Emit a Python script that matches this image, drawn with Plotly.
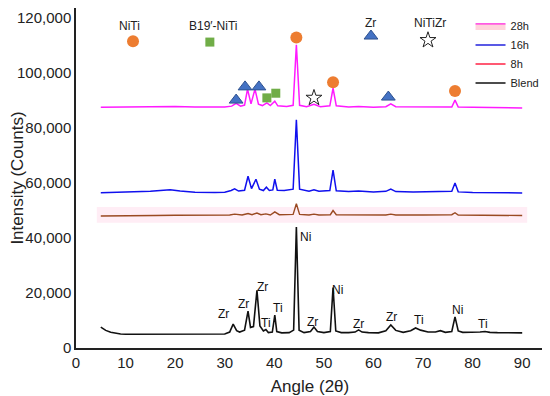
import plotly.graph_objects as go

# ---------------- data ----------------
blend_x = [5, 5.5, 6, 7, 8, 9, 10, 12, 14, 16, 18, 20, 22, 24, 26, 28, 30, 31, 31.7, 32.4, 33, 34, 34.7, 35.2, 35.8,
           36.5, 37.1, 37.8, 38.3, 38.8, 39.6, 40.1, 40.5, 41.5, 43, 43.9, 44.45, 45, 46, 47.3, 48, 48.7, 50, 51.3,
           51.85, 52.4, 53.5, 55, 56.3, 57, 57.7, 59, 61, 62.5, 63.5, 64.5, 66, 67.5, 68.5, 69.5, 71, 72.5, 73.5,
           74.5, 75.8, 76.45, 77.1, 78, 80, 81.5, 82.5, 83.5, 85, 87, 90]
blend_y = [7600, 7000, 6400, 5700, 5300, 5100, 5000, 5000, 5100, 5000, 5100, 5000, 4900, 4900, 4900, 5000, 5100,
           5800, 8700, 6300, 5800, 6500, 13400, 7500, 7800, 21000, 8000, 6200, 6700, 5600, 5800, 12000, 6000, 5500,
           5600, 6500, 44000, 6500, 5600, 6000, 7600, 6000, 5600, 6000, 22000, 6200, 5600, 5600, 5800, 6600, 5800,
           5600, 5500, 6300, 8400, 6400, 5700, 6300, 7300, 6500, 5800, 5800, 6300, 5700, 6000, 11300, 6200, 5700,
           5700, 5800, 6000, 5700, 5600, 5600, 5500]

h8_x = [5, 8, 12, 16, 20, 24, 28, 31, 32, 33.5, 34.7, 35.5, 36.5, 37.3, 38.3, 39.2, 40.1, 41, 43.8, 44.45, 45.1, 47,
        48, 49, 51.3, 51.85, 52.5, 56, 57, 58, 62.5, 63.5, 64.5, 70, 75.8, 76.45, 77.1, 82, 86, 90]
h8_y = [48000, 48000, 48100, 48200, 48300, 48300, 48300, 48400, 48700, 48400, 48900, 48500, 49100, 48500, 48800,
        48400, 49500, 48500, 48600, 52500, 48600, 48400, 48700, 48400, 48500, 50000, 48500, 48400, 48600, 48400,
        48400, 48700, 48400, 48400, 48500, 49200, 48400, 48300, 48300, 48200]

h16_x = [5, 8, 12, 15, 17, 19, 21, 24, 28, 30, 31.3, 32, 32.8, 34, 34.7, 35.4, 36.3, 37, 37.8, 38.4, 39, 39.7, 40.1,
         40.6, 42, 43.8, 44.45, 45.1, 47, 48, 49, 51.2, 51.85, 52.5, 55, 57, 60, 62.5, 63.5, 64.5, 68, 72, 75.8,
         76.45, 77.1, 80, 85, 90]
h16_y = [56500, 56600, 56700, 57000, 57300, 57600, 57100, 56700, 56600, 56700, 57300, 57900, 57100, 57400, 62500,
         58000, 61400, 57800, 57300, 58500, 57300, 57500, 61400, 57400, 57300, 57800, 83000, 57800, 57000, 57600,
         57000, 57300, 64700, 57200, 56900, 57100, 56800, 57000, 57800, 56900, 56800, 56800, 57000, 60000, 56800,
         56600, 56500, 56400]

h28_x = [5, 8, 12, 16, 20, 24, 28, 30, 31.4, 32.3, 33.2, 34, 34.6, 35.3, 36.1, 36.8, 37.6, 38.5, 39.2, 40.1, 40.7,
         42.5, 43.8, 44.45, 45.1, 46.5, 48, 49.3, 51.2, 51.85, 52.5, 55, 57, 60, 62.5, 63.5, 64.5, 68, 72, 75.8,
         76.45, 77.1, 80, 85, 90]
h28_y = [87600, 87700, 87700, 87800, 87900, 87700, 87600, 87700, 88000, 89000, 88000, 88400, 94200, 88800, 94200,
         88700, 88200, 89200, 88200, 89800, 88100, 87900, 88300, 110300, 88300, 87800, 88700, 87800, 88100, 94500,
         88100, 87700, 87900, 87600, 87800, 88800, 87800, 87700, 87600, 87700, 90200, 87700, 87600, 87500, 87300]

# phase markers (angle, counts)
niti_x = [11.5, 44.45, 51.85, 76.45]
niti_y = [111600, 113000, 96700, 93500]
b19_x = [27.0, 38.5, 40.3]
b19_y = [111300, 91000, 92700]
zr_x = [59.5, 32.3, 34.1, 36.9, 63.0]
zr_y = [113500, 90200, 95000, 95000, 91300]
nitizr_x = [71.0, 48.0]
nitizr_y = [112000, 91000]

phase_names = ["NiTi", "B19′-NiTi", "Zr", "NiTiZr"]
phase_label_x = [10.7, 27.6, 59.5, 71.4]
phase_label_y = [117300, 117300, 118200, 118200]

# element labels on the blend pattern
elem_text = ["Zr", "Zr", "Zr", "Ti", "Ti", "Ni", "Zr", "Ni", "Zr", "Zr", "Ti", "Ni", "Ti"]
elem_x = [29.8, 33.7, 37.7, 38.3, 40.7, 46.2, 47.8, 52.8, 56.9, 63.7, 69.2, 77.0, 82.1]
elem_y = [12400, 16000, 22200, 9100, 14500, 40400, 9500, 21100, 8700, 11300, 10200, 13800, 8700]

x_ticks = [0, 10, 20, 30, 40, 50, 60, 70, 80, 90]
y_ticks = [0, 20000, 40000, 60000, 80000, 100000, 120000]

# ---------------- figure ----------------
FONT = "Liberation Sans, Arial, sans-serif"
fig = go.Figure()

# pink band behind the 8h pattern
fig.add_shape(type="rect", xref="x", yref="y", x0=4.2, x1=91, y0=45600, y1=51300,
              fillcolor="rgba(255,215,232,0.45)", line_width=0, layer="below")

fig.add_trace(go.Scatter(x=blend_x, y=blend_y, mode="lines", line=dict(color="#111111", width=1.6),
                         showlegend=False, hoverinfo="skip"))
fig.add_trace(go.Scatter(x=h8_x, y=h8_y, mode="lines", line=dict(color="#9a4a22", width=1.4),
                         showlegend=False, hoverinfo="skip"))
fig.add_trace(go.Scatter(x=h16_x, y=h16_y, mode="lines", line=dict(color="#1010ee", width=1.5),
                         showlegend=False, hoverinfo="skip"))
fig.add_trace(go.Scatter(x=h28_x, y=h28_y, mode="lines", line=dict(color="#ff1aff", width=1.5),
                         showlegend=False, hoverinfo="skip"))

# phase markers
fig.add_trace(go.Scatter(x=niti_x, y=niti_y, mode="markers", showlegend=False,
                         marker=dict(symbol="circle", size=12, color="#ED7D31", line=dict(width=0))))
fig.add_trace(go.Scatter(x=b19_x, y=b19_y, mode="markers", showlegend=False,
                         marker=dict(symbol="square", size=9, color="#70AD47", line=dict(width=0))))
fig.add_trace(go.Scatter(x=zr_x, y=zr_y, mode="markers", showlegend=False,
                         marker=dict(symbol="triangle-up", size=12, color="#4472C4",
                                     line=dict(width=1, color="#2F528F"))))
fig.add_trace(go.Scatter(x=nitizr_x, y=nitizr_y, mode="markers", showlegend=False,
                         marker=dict(symbol="star-open", size=12, color="#222222", line=dict(width=1))))

# legend entries
fig.add_trace(go.Scatter(x=[None, None, None], y=[None, None, None], name="28h", mode="lines",
                         fill="toself", fillcolor="rgba(255,110,140,0.30)", line=dict(color="#ff22dd", width=1.4)))
fig.add_trace(go.Scatter(x=[None], y=[None], name="16h", mode="lines", line=dict(color="#2222dd", width=1.5)))
fig.add_trace(go.Scatter(x=[None], y=[None], name="8h", mode="lines", line=dict(color="#ff2244", width=1.5)))
fig.add_trace(go.Scatter(x=[None], y=[None], name="Blend", mode="lines", line=dict(color="#111111", width=1.5)))

for t, x, y in zip(phase_names, phase_label_x, phase_label_y):
    fig.add_annotation(x=x, y=y, text=t, showarrow=False, xref="x", yref="y",
                       font=dict(family=FONT, size=12, color="#222222"))
for t, x, y in zip(elem_text, elem_x, elem_y):
    fig.add_annotation(x=x, y=y, text=t, showarrow=False, xref="x", yref="y",
                       font=dict(family=FONT, size=12, color="#111111"))

# the page body adds an 8 px margin, so the figure is sized to fit the 550x396 window
fig.update_layout(
    width=542, height=388,
    margin=dict(l=68, r=6, t=0, b=48, autoexpand=False),
    paper_bgcolor="white", plot_bgcolor="white",
    font=dict(family=FONT, color="#222222"),
    legend=dict(x=0.843, y=0.99, xanchor="left", yanchor="top", bgcolor="rgba(0,0,0,0)",
                font=dict(family=FONT, size=11, color="#222222"), tracegroupgap=0,
                itemwidth=30),
)
fig.update_xaxes(range=[0, 94.4], tickvals=x_ticks, ticktext=[str(v) for v in x_ticks],
                 showline=True, linecolor="#222222", linewidth=1.5, mirror=True, showgrid=False,
                 zeroline=False, ticks="", automargin=False,
                 tickfont=dict(size=15, family=FONT, color="#222222"),
                 title=dict(text="Angle (2θ)", font=dict(size=17, family=FONT, color="#222222")))
fig.update_yaxes(range=[0, 123700], tickvals=y_ticks, tickformat=",d",
                 showline=True, linecolor="#222222", linewidth=1.5, mirror=True, showgrid=False,
                 zeroline=False, ticks="", automargin=False,
                 tickfont=dict(size=15, family=FONT, color="#222222"),
                 title=dict(text="Intensity (Counts)", font=dict(size=17, family=FONT, color="#222222")))

fig.write_html("out.html")
